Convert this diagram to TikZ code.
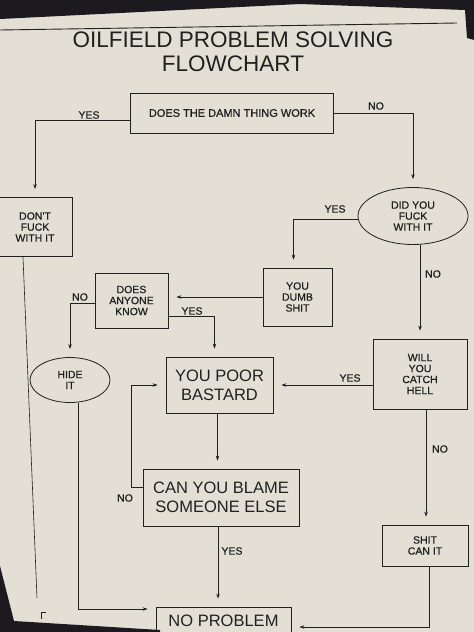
\documentclass[tikz,border=0pt]{standalone}
\usepackage{fontspec}
\setmainfont{Liberation Sans}
\newfontfamily\inkfont[FakeBold=0.6]{Liberation Sans}
\usetikzlibrary{shapes.geometric,arrows.meta}
\definecolor{paper}{RGB}{227,223,212}
\definecolor{ink}{RGB}{32,32,32}
\definecolor{sheetedge}{RGB}{28,26,30}

\begin{document}
\begin{tikzpicture}[x=1pt,y=-1pt,
  box/.style={draw=ink,line width=0.8pt,text=ink,align=center,inner sep=0pt,
    font=\inkfont\fontsize{10.5}{11}\selectfont},
  bigbox/.style={box,font=\fontsize{16.5}{19}\selectfont},
  oval/.style={box,ellipse},
  lbl/.style={text=ink,inner sep=0pt,font=\inkfont\fontsize{10.5}{11}\selectfont},
  wire/.style={draw=ink,line width=0.6pt},
  arr/.style={wire,-{Stealth[length=5pt,width=3.5pt]},shorten >=8pt}]

\useasboundingbox (0,0) rectangle (474,632);
\clip (0,0) rectangle (474,632);
\fill[paper] (0,0) rectangle (474,632);

% edges of the sheet
\fill[sheetedge] (0,0) -- (474,0) -- (474,40) -- (467,38) -- (465,10) -- (300,4) -- (0,19) -- cycle;
\fill[sheetedge] (0,566) -- (14,621) -- (160,630) -- (160,632) -- (0,632) -- cycle;
\draw[wire,line width=0.9pt] (0,30) -- (457,23);

\node[text=ink,align=center,font=\fontsize{22.5}{24}\selectfont] (title) at (233,52)
  {OILFIELD PROBLEM SOLVING\\FLOWCHART};

% boxes
\node[box,minimum width=203pt,minimum height=40pt,font=\inkfont\fontsize{11}{12}\selectfont] (work) at (232,113) {DOES THE DAMN THING WORK};
\node[box,minimum width=74pt,minimum height=59pt] (dont) at (35,227) {DON'T\\FUCK\\WITH IT};
\node[oval,minimum width=110pt,minimum height=57pt] (fuck) at (413,216) {DID YOU\\FUCK\\WITH IT};
\node[box,minimum width=69pt,minimum height=58pt] (dumb) at (297.5,297) {YOU\\DUMB\\SHIT};
\node[box,minimum width=73pt,minimum height=55pt] (anyone) at (131.5,300.5) {DOES\\ANYONE\\KNOW};
\node[box,minimum width=94pt,minimum height=70pt] (catch) at (420,374) {WILL\\YOU\\CATCH\\HELL};
\node[bigbox,minimum width=107pt,minimum height=56pt] (poor) at (219.5,385) {YOU POOR\\BASTARD};
\node[oval,minimum width=80pt,minimum height=45pt] (hide) at (70,380) {HIDE\\IT};
\node[bigbox,minimum width=156pt,minimum height=57pt] (blame) at (221,497.5) {CAN YOU BLAME\\SOMEONE ELSE};
\node[box,minimum width=86pt,minimum height=41pt] (shit) at (425,545.5) {SHIT\\CAN IT};
\node[bigbox,minimum width=135pt,minimum height=28pt] (noprob) at (223.5,621) {NO PROBLEM};

% connectors
\draw[arr] ([yshift=-7pt]work.west) -| (dont.north);
\draw[arr] (work.east) -| (fuck.north);
\draw[arr] ([yshift=-3pt]fuck.west) -| ([xshift=-4pt]dumb.north);
\draw[arr] (catch.north |- fuck.south) -- (catch.north);
\draw[arr] (dumb.west) -- (dumb.west -| anyone.east);
\draw[arr] ([yshift=-3pt]anyone.west) -| (hide.north);
\draw[arr] ([yshift=-16pt]anyone.east) -| ([xshift=-5pt]poor.north);
\draw[arr] (catch.west |- poor.east) -- (poor.east);
\draw[arr] ([xshift=-2pt]poor.south) -- ([xshift=-2pt]poor.south |- blame.north);
\draw[arr] ([yshift=10pt]blame.west) -- ++(-11,0) |- (poor.west);
\draw[arr] ([xshift=-3pt]blame.south) -- ([xshift=-3pt]blame.south |- noprob.north);
\draw[arr] ([xshift=1pt]shit.north |- catch.south) -- ([xshift=1pt]shit.north);
\draw[arr] ([xshift=8pt]hide.south) |- ([yshift=12pt]noprob.west);
\draw[arr] ([xshift=4pt]shit.south) |- ([yshift=-6pt]noprob.east);
\coordinate (low) at (37,598);
\draw[wire] ([xshift=-12pt]dont.south) -- (low);
\draw[wire] (41,619) -- (41,612) -- (46,612);

% labels
\node[lbl] (l1) at (89,115) {YES};
\node[lbl] (l2) at (376,106) {NO};
\node[lbl] (l3) at (335,209) {YES};
\node[lbl] (l4) at (433,274) {NO};
\node[lbl] (l5) at (80,297) {NO};
\node[lbl] (l6) at (192,311) {YES};
\node[lbl] (l7) at (350,378) {YES};
\node[lbl] (l8) at (440,449) {NO};
\node[lbl] (l9) at (125,498) {NO};
\node[lbl] (l10) at (232,551) {YES};

\end{tikzpicture}
\end{document}
